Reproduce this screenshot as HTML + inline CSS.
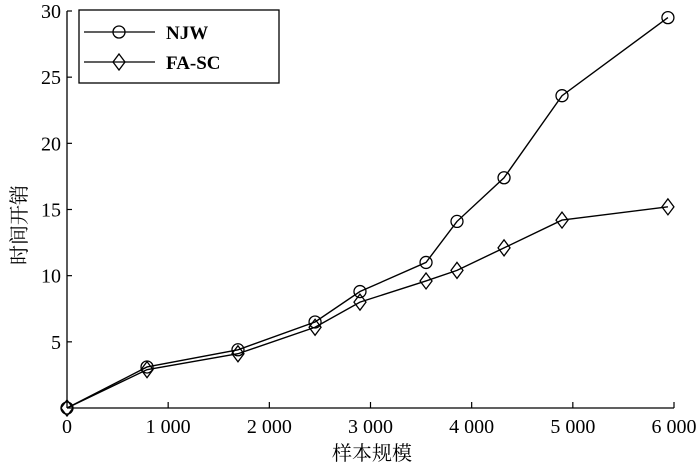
<!DOCTYPE html>
<html><head><meta charset="utf-8"><style>
html,body{margin:0;padding:0;background:#fff;}
svg text{font-family:"Liberation Serif","Noto Serif CJK SC",serif;fill:#000;}
</style></head><body>
<svg id="chart" width="700" height="469" xmlns="http://www.w3.org/2000/svg">
<g id="axes"></g><g id="series"></g><g id="legend"></g>
</svg>
<script>
const xValues = [0, 791, 1690, 2452, 2896, 3549, 3855, 4320, 4893, 5940];
const njwValues = [0, 3.1, 4.4, 6.5, 8.8, 11.0, 14.1, 17.4, 23.6, 29.5];
const fascValues = [0, 2.9, 4.1, 6.1, 8.0, 9.6, 10.4, 12.1, 14.2, 15.2];
const xTicks = [0, 1000, 2000, 3000, 4000, 5000, 6000];
const xTickLabels = ["0", "1 000", "2 000", "3 000", "4 000", "5 000", "6 000"];
const yTicks = [5, 10, 15, 20, 25, 30];
const yTickLabels = ["5", "10", "15", "20", "25", "30"];

const NS = "http://www.w3.org/2000/svg";
const X0 = 67, X1 = 674, Y0 = 408, Y1 = 11;
const xs = v => X0 + (X1 - X0) * v / 6000;
const ys = v => Y0 - (Y0 - Y1) * v / 30;
function mk(tag, attrs, parent) {
  const e = document.createElementNS(NS, tag);
  for (const k in attrs) e.setAttribute(k, attrs[k]);
  parent.appendChild(e);
  return e;
}
const axes = document.getElementById('axes');
let l = mk('line', {x1: X0, y1: Y1, x2: X0, y2: Y0, stroke: '#000', 'stroke-width': 1.3}, axes);


l = mk('line', {x1: X0, y1: Y0, x2: X1, y2: Y0, stroke: '#000', 'stroke-width': 1.3}, axes);


xTicks.forEach((t, i) => {
  const x = xs(t);
  if (i > 0) mk('line', {x1: x, y1: Y0, x2: x, y2: Y0 - 6, stroke: '#000', 'stroke-width': 1.2}, axes);
  const tx = mk('text', {x: x, y: Y0 + 25, 'text-anchor': 'middle', 'font-size': 20}, axes);
  tx.textContent = xTickLabels[i];
  
  
});
yTicks.forEach((t, i) => {
  const y = ys(t);
  mk('line', {x1: X0, y1: y, x2: X0 + 5, y2: y, stroke: '#000', 'stroke-width': 1.2}, axes);
  const tx = mk('text', {x: X0 - 6, y: y + 7, 'text-anchor': 'end', 'font-size': 20}, axes);
  tx.textContent = yTickLabels[i];
  
  
});
let t = mk('text', {x: 372, y: 460, 'text-anchor': 'middle', 'font-size': 20}, axes);
t.textContent = '样本规模';


t = mk('text', {x: 0, y: 0, 'text-anchor': 'middle', 'font-size': 20, transform: 'translate(26,225) rotate(-90)'}, axes);
t.textContent = '时间开销';



const series = document.getElementById('series');
function marker(kind, x, y, parent) {
  if (kind === 'circle') return mk('circle', {cx: x, cy: y, r: 6, fill: 'none', stroke: '#000', 'stroke-width': 1.3}, parent);
  return mk('polygon', {points: `${x},${y-8} ${x+6},${y} ${x},${y+8} ${x-6},${y}`, fill: 'none', stroke: '#000', 'stroke-width': 1.3}, parent);
}
function drawSeries(vals, kind, name) {
  const g = mk('g', {}, series);
  
  
  const pts = vals.map((v, i) => xs(xValues[i]) + ',' + ys(v)).join(' ');
  mk('polyline', {points: pts, fill: 'none', stroke: '#000', 'stroke-width': 1.4}, g);
  vals.forEach((v, i) => {
    const m = marker(kind, xs(xValues[i]), ys(v), g);
    
    
  });
}
drawSeries(fascValues, 'diamond', 'fa-sc-series');
drawSeries(njwValues, 'circle', 'njw-series');

const lg = document.getElementById('legend');


mk('rect', {x: 79, y: 10, width: 200, height: 73, fill: '#fff', stroke: '#000', 'stroke-width': 1.3}, lg);
[['NJW', 'circle', 32], ['FA-SC', 'diamond', 62]].forEach(([lab, kind, y]) => {
  const g = mk('g', {}, lg);
  
  
  mk('line', {x1: 84, y1: y, x2: 155, y2: y, stroke: '#000', 'stroke-width': 1.3}, g);
  marker(kind, 119, y, g);
  const tx = mk('text', {x: 166, y: y + 7, 'font-size': 19, 'font-weight': 'bold'}, g);
  tx.textContent = lab;
});
</script>
</body></html>
